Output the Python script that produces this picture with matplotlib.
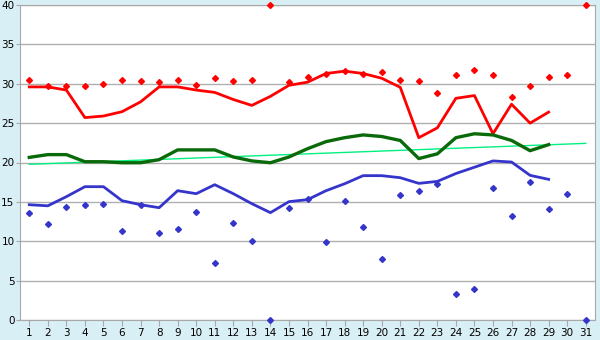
import matplotlib
matplotlib.use("Agg")
import matplotlib.pyplot as plt
import numpy as np

# daily values
days = np.arange(1, 32)
line_days = np.arange(1, 30)

max_points = [30.5, 29.7, 29.7, 29.7, 30.0, 30.5, 30.4, 30.2, 30.5, 29.8,
              30.7, 30.4, 30.5, 40.0, 30.2, 30.9, 31.3, 31.6, 31.3, 31.45,
              30.5, 30.4, 28.8, 31.05, 31.7, 31.05, 28.3, 29.7, 30.8, 31.05, 40.0]
min_points = [13.55, 12.15, 14.3, 14.56, 14.69, 11.26, 14.56, 11.0, 11.5, 13.67,
              7.2, 12.28, 9.99, 0.0, 14.18, 15.4, 9.86, 15.07, 11.77, 7.7,
              15.83, 16.34, 17.3, 3.26, 3.9, 16.72, 13.17, 17.48, 14.05, 15.96, 0.0]

max_avg = [29.6, 29.6, 29.2, 25.7, 25.9, 26.45, 27.7, 29.6, 29.6, 29.2,
           28.9, 28.0, 27.25, 28.4, 29.8, 30.2, 31.3, 31.6, 31.3, 30.7,
           29.55, 23.15, 24.4, 28.15, 28.5, 23.65, 27.4, 25.0, 26.4]
mean_avg = [20.65, 21.0, 21.0, 20.1, 20.1, 19.97, 19.97, 20.36, 21.6, 21.6,
            21.6, 20.7, 20.2, 19.97, 20.7, 21.75, 22.65, 23.15, 23.5, 23.3,
            22.8, 20.5, 21.1, 23.15, 23.65, 23.5, 22.8, 21.5, 22.27]
min_avg = [14.64, 14.5, 15.66, 16.93, 16.93, 15.15, 14.64, 14.26, 16.42, 16.04,
           17.18, 16.04, 14.77, 13.63, 15.03, 15.28, 16.42, 17.3, 18.33, 18.33,
           18.07, 17.35, 17.6, 18.6, 19.4, 20.2, 20.06, 18.37, 17.86]

trend_days = [1, 31]
trend_vals = [19.77, 22.43]

fig = plt.figure(figsize=(6, 3.4), dpi=100)
fig.patch.set_facecolor("#d9eff6")
ax = fig.add_axes([20 / 600, 20 / 340, 575 / 600, 315 / 340])
ax.set_facecolor("white")

ax.plot(trend_days, trend_vals, color="#00f080", lw=1, zorder=3)
ax.plot(line_days, max_avg, color="#ff0000", lw=2, zorder=4)
ax.plot(line_days, mean_avg, color="#0a6a0a", lw=2.4, zorder=4)
ax.plot(line_days, min_avg, color="#3535cc", lw=2, zorder=4)
ax.plot(days, max_points, ls="none", marker="D", ms=3, color="#ff0000",
        zorder=5, clip_on=False)
ax.plot(days, min_points, ls="none", marker="D", ms=3, color="#3535cc",
        zorder=5, clip_on=False)

ax.set_xlim(0.5, 31.5)
ax.set_ylim(0, 40)
ax.set_xticks(days)
ax.set_yticks(np.arange(0, 41, 5))
ax.yaxis.grid(True, color="#b0b0b0", lw=1)
ax.set_axisbelow(True)
for s in ax.spines.values():
    s.set_color("#a8a8a8")
ax.tick_params(axis="both", colors="#a8a8a8", labelcolor="black", labelsize=7.5)
ax.tick_params(axis="x", length=4, pad=2)
ax.tick_params(axis="y", length=3, pad=1)

fig.savefig("out.png", dpi=100, facecolor=fig.get_facecolor())
